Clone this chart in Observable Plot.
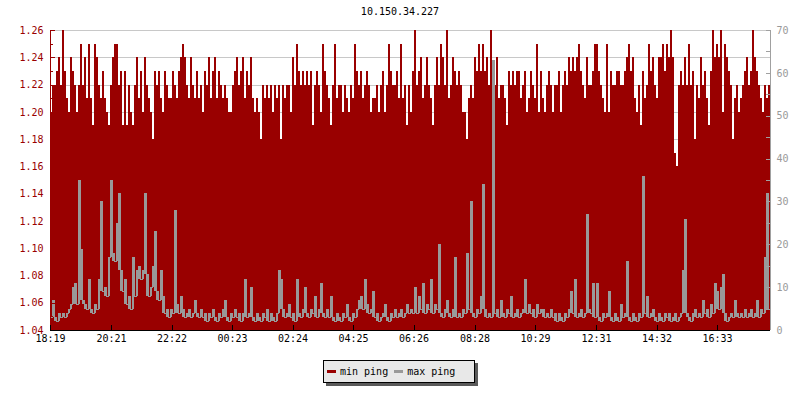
<!DOCTYPE html>
<html><head><meta charset="utf-8">
<script src="https://cdn.jsdelivr.net/npm/d3@7"></script>
<script src="https://cdn.jsdelivr.net/npm/@observablehq/plot@0.6"></script>
<style>
body{margin:0;background:#fff;}
#wrap{position:relative;width:800px;height:400px;font-family:"DejaVu Sans Mono",monospace;font-size:10px;color:#000;}
#title{position:absolute;top:6px;left:0;width:800px;text-align:center;line-height:12px;}
#legend{position:absolute;left:323px;top:360px;width:152px;height:23px;box-sizing:border-box;background:#e8e8e8;border:1px solid #000;box-shadow:3px 3px 0 #5a5a5a;display:flex;align-items:center;padding-left:3px;white-space:nowrap;}
.sw{display:inline-block;width:9px;height:3px;margin-right:4px;}
.lab{margin-right:6px;}
</style></head><body>
<div id="wrap"><div id="chart"></div><div id="title"></div><div id="legend"></div></div>
<script>
const title = "10.150.34.227";
const seriesNames = ["min ping", "max ping"];
const seriesColors = ["#990000", "#999999"];
const timeLabels = ["18:19","20:21","22:22","00:23","02:24","04:25","06:26","08:28","10:29","12:31","14:32","16:33"];
const leftTicks = [1.04,1.06,1.08,1.10,1.12,1.14,1.16,1.18,1.20,1.22,1.24,1.26];
const rightTicks = [0,10,20,30,40,50,60,70];
const sampleMinutes = 4;
const minPing = [
1.20,1.22,1.22,1.23,1.24,1.22,1.26,1.23,1.21,1.20,
1.24,1.23,1.22,1.20,1.22,1.25,1.22,1.24,1.21,1.25,
1.21,1.19,1.25,1.24,1.22,1.21,1.23,1.21,1.20,1.19,
1.22,1.24,1.25,1.25,1.22,1.23,1.19,1.23,1.19,1.22,
1.20,1.19,1.22,1.24,1.21,1.23,1.20,1.24,1.22,1.21,
1.20,1.18,1.23,1.22,1.23,1.21,1.20,1.23,1.22,1.21,
1.21,1.23,1.22,1.21,1.23,1.24,1.25,1.24,1.22,1.21,
1.24,1.22,1.21,1.23,1.21,1.22,1.20,1.23,1.22,1.24,
1.21,1.23,1.24,1.21,1.23,1.22,1.21,1.22,1.21,1.20,
1.20,1.22,1.23,1.24,1.22,1.23,1.24,1.21,1.23,1.22,
1.24,1.21,1.20,1.21,1.20,1.18,1.22,1.21,1.22,1.21,
1.22,1.20,1.22,1.21,1.22,1.18,1.22,1.21,1.22,1.22,
1.20,1.24,1.22,1.25,1.23,1.22,1.23,1.22,1.23,1.22,
1.23,1.19,1.22,1.23,1.22,1.20,1.25,1.23,1.22,1.21,
1.19,1.22,1.25,1.21,1.22,1.22,1.20,1.22,1.21,1.20,
1.22,1.21,1.25,1.23,1.22,1.23,1.21,1.22,1.23,1.22,
1.20,1.21,1.21,1.22,1.20,1.22,1.23,1.20,1.22,1.25,
1.23,1.22,1.22,1.23,1.21,1.25,1.21,1.22,1.19,1.22,
1.20,1.23,1.26,1.22,1.23,1.24,1.21,1.22,1.24,1.22,
1.21,1.19,1.22,1.24,1.22,1.25,1.24,1.22,1.26,1.21,
1.22,1.24,1.23,1.22,1.23,1.22,1.20,1.20,1.18,1.21,
1.22,1.21,1.24,1.23,1.25,1.23,1.25,1.23,1.24,1.22,
1.26,1.22,1.22,1.24,1.21,1.22,1.22,1.21,1.19,1.23,
1.22,1.23,1.22,1.23,1.23,1.21,1.22,1.23,1.20,1.21,
1.23,1.22,1.21,1.25,1.20,1.23,1.21,1.20,1.22,1.23,
1.22,1.20,1.22,1.22,1.23,1.20,1.22,1.23,1.22,1.24,
1.23,1.24,1.23,1.24,1.25,1.23,1.22,1.21,1.24,1.22,
1.22,1.23,1.25,1.25,1.23,1.22,1.21,1.20,1.25,1.20,
1.23,1.22,1.22,1.23,1.23,1.22,1.22,1.23,1.24,1.25,
1.23,1.24,1.21,1.20,1.22,1.19,1.23,1.21,1.22,1.25,
1.23,1.24,1.22,1.21,1.24,1.24,1.25,1.23,1.25,1.24,
1.26,1.24,1.17,1.16,1.22,1.23,1.22,1.24,1.22,1.25,
1.22,1.23,1.18,1.22,1.21,1.24,1.22,1.23,1.21,1.19,
1.23,1.26,1.24,1.25,1.24,1.26,1.20,1.25,1.24,1.23,
1.22,1.18,1.21,1.22,1.20,1.21,1.22,1.23,1.24,1.22,
1.23,1.26,1.24,1.23,1.22,1.21,1.20,1.22,1.21,1.22
];
const maxPing = [
3,7,3,2,4,3,4,3,4,5,
6,10,11,6,35,19,7,6,5,12,
5,4,6,5,12,30,9,10,8,17,
35,18,16,25,32,14,9,12,6,8,
5,17,8,14,15,12,14,32,13,8,
10,15,23,9,7,14,8,4,5,3,
5,4,28,6,4,8,5,3,4,5,
3,4,7,4,3,5,3,4,2,4,
3,5,3,2,4,3,5,7,3,2,
4,3,5,3,4,2,4,12,3,4,
10,3,2,4,3,2,4,3,5,2,
4,3,2,4,14,12,5,3,4,6,
3,4,2,12,4,3,5,10,4,3,
5,4,8,3,5,11,4,3,5,3,
8,3,2,4,3,2,4,3,6,3,
2,4,3,5,7,8,5,12,6,4,
5,9,3,4,2,3,4,6,3,2,
4,3,5,3,4,5,3,4,6,4,
5,4,10,4,8,5,11,4,6,5,
12,4,6,5,20,4,3,5,7,4,
3,5,17,3,4,3,5,4,18,5,
30,4,3,5,4,8,34,5,3,4,
3,63,4,5,3,7,4,3,5,4,
8,3,4,5,3,4,5,12,4,6,
4,5,3,6,4,5,5,3,4,3,
5,3,4,2,4,3,2,4,3,5,
9,4,12,3,4,5,3,4,27,5,
4,11,3,11,3,2,4,3,4,9,
3,2,4,3,2,6,3,4,16,3,
2,4,3,2,4,3,36,4,8,3,
4,5,3,2,4,3,2,4,3,4,
2,3,4,2,3,4,14,26,4,3,
2,4,5,3,4,3,7,4,5,3,
6,4,11,9,5,10,13,4,2,3,
4,3,7,4,3,4,3,5,3,4,
5,3,4,7,3,5,4,17,32,5
];

const yLo = leftTicks[0], yHi = leftTicks[leftTicks.length - 1];
const rLo = rightTicks[0], rHi = rightTicks[rightTicks.length - 1];
const toLeft = v => yLo + (v - rLo) * (yHi - yLo) / (rHi - rLo);

const startMin = (() => { const [h, m] = timeLabels[0].split(":").map(Number); return h * 60 + m; })();
const labelMin = s => { const [h, m] = s.split(":").map(Number); return ((h * 60 + m - startMin) % 1440 + 1440) % 1440; };
const timeTicks = timeLabels.map(s => ({t: labelMin(s), label: s}));
const xMax = minPing.length * sampleMinutes;

const rows = minPing.map((v, i) => ({t: i * sampleMinutes, min: v, max: maxPing[i]}));
const rowsEnd = rows.concat([{t: xMax, min: rows[rows.length - 1].min, max: rows[rows.length - 1].max}]);
// solid fill for each max-ping step down to its lower neighbour, so the dense line reads as in the original
const fills = rows.map((d, i) => {
  const p = i > 0 ? maxPing[i - 1] : d.max, n = i < maxPing.length - 1 ? maxPing[i + 1] : d.max;
  return {t1: d.t, t2: d.t + sampleMinutes, lo: Math.min(p, n, d.max), hi: d.max};
}).filter(d => d.hi > d.lo);

const leftMinor = leftTicks.slice(1).map((d, i) => (d + leftTicks[i]) / 2);
const rightAll = rightTicks.flatMap((d, i) => i ? [(d + rightTicks[i - 1]) / 2, d] : [d]);

const W = 800, H = 355, mL = 50, mR = 30, mT = 30, mB = 25;
const innerW = W - mL - mR, innerH = H - mT - mB;

const chart = Plot.plot({
  width: W, height: H,
  marginLeft: mL, marginRight: mR, marginTop: mT, marginBottom: mB,
  x: {type: "linear", domain: [0, xMax], axis: null},
  y: {domain: [yLo, yHi], axis: null},
  style: {fontFamily: "DejaVu Sans Mono, monospace", fontSize: "10px", background: "white", overflow: "visible"},
  marks: [
    Plot.ruleY(leftTicks, {y: d => d, stroke: "#c8c8c8", shapeRendering: "crispEdges"}),
    Plot.areaY(rowsEnd, {x: "t", y1: yLo, y2: "min", curve: "step-after", fill: seriesColors[0], shapeRendering: "crispEdges"}),
    Plot.rect(fills, {x1: "t1", x2: "t2", y1: d => toLeft(d.lo), y2: d => toLeft(d.hi), fill: seriesColors[1], shapeRendering: "crispEdges"}),
    Plot.line(rowsEnd, {x: "t", y: d => toLeft(d.max), curve: "step-after", stroke: seriesColors[1], strokeWidth: 1, shapeRendering: "crispEdges"}),
    // left axis
    Plot.ruleX([0], {x: d => d, stroke: seriesColors[0], shapeRendering: "crispEdges"}),
    Plot.ruleY(leftTicks, {y: d => d, stroke: seriesColors[0], insetRight: innerW - 5, shapeRendering: "crispEdges"}),
    Plot.ruleY(leftMinor, {y: d => d, stroke: seriesColors[0], insetRight: innerW - 3, shapeRendering: "crispEdges"}),
    Plot.text(leftTicks, {y: d => d, frameAnchor: "left", textAnchor: "end", dx: -7, text: d => d.toFixed(2), fill: seriesColors[0]}),
    // right axis
    Plot.ruleX([xMax], {x: d => d, stroke: "#a0a0a0", shapeRendering: "crispEdges"}),
    Plot.ruleY(rightAll, {y: d => toLeft(d), stroke: "#a0a0a0", insetLeft: innerW - 4, shapeRendering: "crispEdges"}),
    Plot.text(rightTicks, {y: d => toLeft(d), frameAnchor: "right", textAnchor: "start", dx: 6, text: d => String(d), fill: "#999999"}),
    // bottom axis
    Plot.ruleY([yLo], {y: d => d, stroke: "#000", shapeRendering: "crispEdges"}),
    Plot.ruleX(timeTicks, {x: "t", stroke: "#000", insetTop: innerH - 5, shapeRendering: "crispEdges"}),
    Plot.text(timeTicks, {x: "t", frameAnchor: "bottom", dy: 11, text: "label", fill: "#000"})
  ]
});
document.getElementById("chart").appendChild(chart);
document.getElementById("title").textContent = title;
const lg = document.getElementById("legend");
seriesNames.forEach((n, i) => {
  const sw = document.createElement("span"); sw.className = "sw"; sw.style.background = seriesColors[i];
  const lb = document.createElement("span"); lb.className = "lab"; lb.textContent = n;
  lg.appendChild(sw); lg.appendChild(lb);
});
</script></body></html>
